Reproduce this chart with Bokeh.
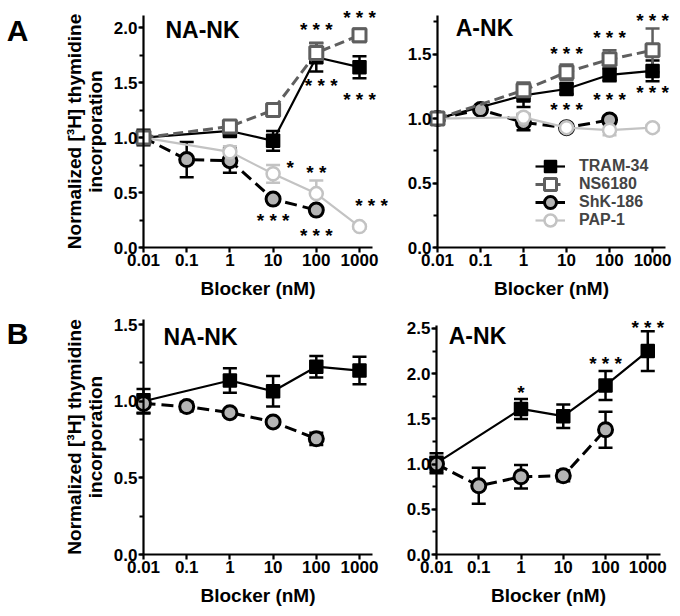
import math
from bokeh.plotting import figure
from bokeh.models import (Range1d, FixedTicker, SingleIntervalTicker, NumeralTickFormatter,
                          ColumnDataSource, Whisker, TeeHead, Label, LabelSet, Legend, LegendItem)
from bokeh.layouts import column, row
from bokeh.core.properties import value
from bokeh.embed import file_html
from bokeh.resources import INLINE

FONT = "Liberation Sans"

# ---------------- data ----------------
x_ticks = [0.01, 0.1, 1, 10, 100, 1000]
x_tick_labels = ["0.01", "0.1", "1", "10", "100", "1000"]
series_names = ["TRAM-34", "NS6180", "ShK-186", "PAP-1"]

# Panel A, NA-NK
a_na_tram_x = [0.01, 1, 10, 100, 1000]
a_na_tram_y = [1.00, 1.06, 0.97, 1.73, 1.64]
a_na_tram_e = [0.07, 0.04, 0.09, 0.13, 0.10]
a_na_ns_x = [0.01, 1, 10, 100, 1000]
a_na_ns_y = [1.00, 1.10, 1.25, 1.77, 1.93]
a_na_ns_e = [0.05, 0.04, 0.05, 0.09, 0.06]
a_na_shk_x = [0.01, 0.1, 1, 10, 100]
a_na_shk_y = [1.00, 0.80, 0.79, 0.44, 0.34]
a_na_shk_e = [0.05, 0.16, 0.11, 0.03, 0.03]
a_na_pap_x = [0.01, 1, 10, 100, 1000]
a_na_pap_y = [1.00, 0.87, 0.67, 0.49, 0.19]
a_na_pap_e = [0.03, 0.05, 0.08, 0.12, 0.02]
a_na_star_x = [100, 1000, 130, 1000, 25, 100, 10, 100, 1900]
a_na_star_y = [2.00, 2.11, 1.49, 1.36, 0.745, 0.70, 0.26, 0.13, 0.40]
a_na_star_t = ["* * *", "* * *", "* * *", "* * *", "*", "* *", "* * *", "* * *", "* * *"]

# Panel A, A-NK
a_a_tram_x = [0.01, 1, 10, 100, 1000]
a_a_tram_y = [1.00, 1.18, 1.23, 1.34, 1.37]
a_a_tram_e = [0.02, 0.09, 0.04, 0.05, 0.08]
a_a_ns_x = [0.01, 1, 10, 100, 1000]
a_a_ns_y = [1.00, 1.22, 1.36, 1.46, 1.53]
a_a_ns_e = [0.02, 0.06, 0.06, 0.07, 0.17]
a_a_shk_x = [0.01, 0.1, 1, 10, 100]
a_a_shk_y = [1.00, 1.07, 0.97, 0.93, 0.99]
a_a_shk_e = [0.02, 0.02, 0.06, 0.02, 0.03]
a_a_pap_x = [0.01, 1, 10, 100, 1000]
a_a_pap_y = [1.00, 1.01, 0.93, 0.91, 0.93]
a_a_pap_e = [0.02, 0.03, 0.03, 0.04, 0.02]
a_a_star_x = [10, 100, 1000, 10, 100, 1000]
a_a_star_y = [1.52, 1.645, 1.775, 1.083, 1.165, 1.218]
a_a_star_t = ["* * *"] * 6

# Panel B, NA-NK
b_na_tram_x = [0.01, 1, 10, 100, 1000]
b_na_tram_y = [1.00, 1.135, 1.065, 1.225, 1.20]
b_na_tram_e = [0.08, 0.08, 0.10, 0.07, 0.09]
b_na_shk_x = [0.01, 0.1, 1, 10, 100]
b_na_shk_y = [0.985, 0.965, 0.925, 0.865, 0.755]
b_na_shk_e = [0.06, 0.03, 0.02, 0.02, 0.04]

# Panel B, A-NK
b_a_tram_x = [0.01, 1, 10, 100, 1000]
b_a_tram_y = [1.01, 1.61, 1.53, 1.87, 2.25]
b_a_tram_e = [0.11, 0.11, 0.13, 0.16, 0.22]
b_a_shk_x = [0.01, 0.1, 1, 10, 100]
b_a_shk_y = [1.00, 0.76, 0.86, 0.87, 1.38]
b_a_shk_e = [0.08, 0.20, 0.13, 0.06, 0.20]
b_a_star_x = [1, 100, 1000]
b_a_star_y = [1.81, 2.13, 2.53]
b_a_star_t = ["*", "* * *", "* * *"]

# ---------------- styles ----------------
STY = {
    "TRAM-34": dict(color="black", marker="square", size=13, fill="black", lw=2.2, dash="solid", mlw=1.5),
    "NS6180": dict(color="#5f5f5f", marker="square", size=13, fill="white", lw=3, dash="10 5", mlw=3),
    "ShK-186": dict(color="black", marker="circle", size=14, fill="#b4b4b4", lw=3, dash="12 6", mlw=3),
    "PAP-1": dict(color="#c3c3c3", marker="circle", size=13, fill="white", lw=2.2, dash="solid", mlw=2.5),
}


def make_panel(page_left, page_top, width, height, axis_x_px, axis_end_px,
               axis_y_px, axis_top_px, x_end, y_top, ylabel):
    # the frame covers the whole figure; axes are pinned at x=0.01 and y=0
    ppd = (axis_end_px - axis_x_px) / (math.log10(x_end) - math.log10(x_ticks[0]))
    x_lo_log = math.log10(x_ticks[0]) - (axis_x_px - page_left) / ppd
    x_hi_log = math.log10(x_ticks[0]) + (page_left + width - axis_x_px) / ppd
    ppu = (axis_y_px - axis_top_px) / y_top
    y_lo = -(page_top + height - axis_y_px) / ppu
    y_hi = (axis_y_px - page_top) / ppu
    p = figure(width=width, height=height, x_axis_type="log",
               x_range=Range1d(10 ** x_lo_log, 10 ** x_hi_log), y_range=Range1d(y_lo, y_hi),
               output_backend="svg", toolbar_location=None,
               min_border_left=0, min_border_right=0, min_border_top=0, min_border_bottom=0)
    p.outline_line_color = None
    p.xgrid.visible = False
    p.ygrid.visible = False
    p.background_fill_color = "white"
    p.border_fill_color = "white"

    xa = p.xaxis[0]
    xa.fixed_location = 0
    xa.bounds = (x_ticks[0], x_end)
    xa.ticker = FixedTicker(ticks=x_ticks, minor_ticks=[])
    xa.major_label_overrides = {t: l for t, l in zip(x_ticks, x_tick_labels)}
    xa.axis_label = "Blocker (nM)"

    ya = p.yaxis[0]
    ya.fixed_location = x_ticks[0]
    ya.bounds = (0, y_top)
    ya.ticker = SingleIntervalTicker(interval=0.5, num_minor_ticks=2)
    ya.formatter = NumeralTickFormatter(format="0.0")
    if ylabel:
        ya.axis_label = "Normalized [\u00b3H] thymidine\nincorporation"
    for ax in (xa, ya):
        ax.axis_line_width = 2.2
        ax.major_tick_line_width = 2.2
        ax.minor_tick_line_width = 2.2
        ax.major_tick_out = 5
        ax.major_tick_in = 0
        ax.minor_tick_out = 4
        ax.minor_tick_in = 0
        ax.major_label_text_font = FONT
        ax.major_label_text_font_size = "17px"
        ax.major_label_text_font_style = "bold"
        ax.major_label_text_color = "black"
        ax.major_label_standoff = 1
        ax.axis_label_text_font = FONT
        ax.axis_label_text_font_size = "19px"
        ax.axis_label_text_font_style = "bold"
        ax.axis_label_text_color = "black"
        ax.axis_label_text_line_height = 1.0
    xa.axis_label_standoff = 9
    ya.axis_label_standoff = 5

    def to_data(px, py):
        x = 10 ** (x_lo_log + (px - page_left) / ppd)
        y = y_hi - (py - page_top) / ppu
        return x, y

    return p, to_data


def add_series(p, name, xs, ys, es):
    s = STY[name]
    src = ColumnDataSource(dict(x=xs, y=ys,
                                upper=[y + e for y, e in zip(ys, es)],
                                lower=[y - e for y, e in zip(ys, es)]))
    w = Whisker(source=src, base="x", upper="upper", lower="lower", dimension="height",
                line_color=s["color"], line_width=2.5, level="underlay",
                upper_head=TeeHead(size=14, line_color=s["color"], line_width=2.5),
                lower_head=TeeHead(size=14, line_color=s["color"], line_width=2.5))
    p.add_layout(w)
    ln = p.line("x", "y", source=src, line_color=s["color"], line_width=s["lw"],
                line_dash=s["dash"])
    sc = p.scatter("x", "y", source=src, marker=s["marker"], size=s["size"],
                   fill_color=s["fill"], line_color=s["color"], line_width=s["mlw"])
    return [ln, sc]


def add_stars(p, xs, ys, ts):
    src = ColumnDataSource(dict(x=xs, y=ys, t=ts))
    p.add_layout(LabelSet(x="x", y="y", text="t", source=src, text_align="center",
                          text_baseline="middle", y_offset=-2, text_font=value(FONT),
                          text_font_size="19px", text_font_style="bold",
                          text_color="black"))


def add_text(p, to_data, px, py_baseline, text, size):
    x, y = to_data(px, py_baseline)
    p.add_layout(Label(x=x, y=y, text=text, text_align="center", text_baseline="alphabetic",
                       text_font=FONT, text_font_size=size, text_font_style="bold",
                       text_color="black"))


# ---------------- panel A left ----------------
p1, d1 = make_panel(0, 0, 390, 300, 143, 372, 247, 15, 2000, 2.11, True)
add_series(p1, "TRAM-34", a_na_tram_x, a_na_tram_y, a_na_tram_e)
add_series(p1, "ShK-186", a_na_shk_x, a_na_shk_y, a_na_shk_e)
add_series(p1, "PAP-1", a_na_pap_x, a_na_pap_y, a_na_pap_e)
add_series(p1, "NS6180", a_na_ns_x, a_na_ns_y, a_na_ns_e)
add_stars(p1, a_na_star_x, a_na_star_y, a_na_star_t)
add_text(p1, d1, 202, 29, "NA-NK", "23px")
add_text(p1, d1, 17, 30, "A", "30px")

# ---------------- panel A right ----------------
p2, d2 = make_panel(390, 0, 290, 300, 437, 665, 247, 15, 2000, 1.80, False)
r_tram = add_series(p2, "TRAM-34", a_a_tram_x, a_a_tram_y, a_a_tram_e)
r_shk = add_series(p2, "ShK-186", a_a_shk_x, a_a_shk_y, a_a_shk_e)
r_pap = add_series(p2, "PAP-1", a_a_pap_x, a_a_pap_y, a_a_pap_e)
r_ns = add_series(p2, "NS6180", a_a_ns_x, a_a_ns_y, a_a_ns_e)
add_stars(p2, a_a_star_x, a_a_star_y, a_a_star_t)
add_text(p2, d2, 484, 27, "A-NK", "23px")

# one legend per entry so that the symbols keep a readable size
legend_rows = [(series_names[0], r_tram), (series_names[1], r_ns),
               (series_names[2], r_shk), (series_names[3], r_pap)]
row_centers_px = [166, 184, 202, 220]
for (lab, rends), cy in zip(legend_rows, row_centers_px):
    lg = Legend(items=[LegendItem(label=lab, renderers=rends)],
                location=(145, 300 - (cy + 15)), border_line_color=None,
                background_fill_alpha=0, label_text_font=FONT, label_text_font_size="16px",
                label_text_font_style="bold", glyph_width=30, glyph_height=30,
                label_height=16, spacing=0, padding=0, margin=0, label_standoff=14)
    p2.add_layout(lg)

# ---------------- panel B left ----------------
p3, d3 = make_panel(0, 300, 390, 314, 143, 372, 554, 319, 2000, 1.533, True)
add_series(p3, "TRAM-34", b_na_tram_x, b_na_tram_y, b_na_tram_e)
add_series(p3, "ShK-186", b_na_shk_x, b_na_shk_y, b_na_shk_e)
add_text(p3, d3, 200, 336, "NA-NK", "23px")
add_text(p3, d3, 17, 333, "B", "30px")

# ---------------- panel B right ----------------
p4, d4 = make_panel(390, 300, 290, 314, 436, 660, 554, 325, 2000, 2.533, False)
add_series(p4, "TRAM-34", b_a_tram_x, b_a_tram_y, b_a_tram_e)
add_series(p4, "ShK-186", b_a_shk_x, b_a_shk_y, b_a_shk_e)
add_stars(p4, b_a_star_x, b_a_star_y, b_a_star_t)
add_text(p4, d4, 477, 335, "A-NK", "23px")

layout = column(row(p1, p2), row(p3, p4))
open("out.html", "w").write(file_html(layout, INLINE))
